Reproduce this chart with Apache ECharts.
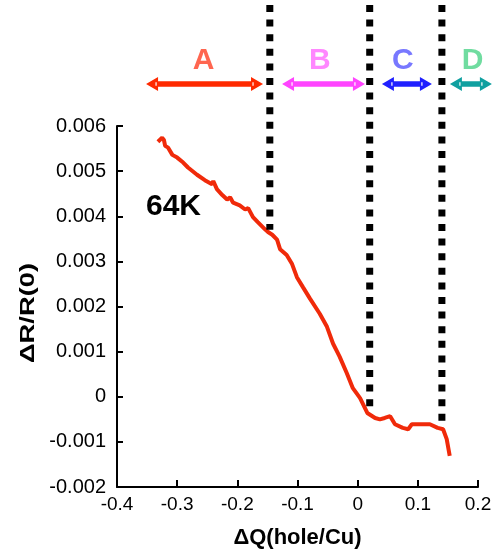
<!DOCTYPE html>
<html><head><meta charset="utf-8">
<script src="https://cdn.jsdelivr.net/npm/echarts@6/dist/echarts.min.js"></script>
<style>html,body{margin:0;padding:0;background:#fff}#c{width:503px;height:554px}</style>
</head><body><div id="c"></div>
<script>
// Curve: ΔQ (hole/Cu) vs ΔR/R(0) at 64K
const dq = [-0.332,-0.325,-0.322,-0.320,-0.315,-0.308,-0.300,-0.290,-0.282,-0.267,-0.254,-0.242,-0.240,-0.234,-0.225,-0.217,-0.212,-0.207,-0.196,-0.187,-0.182,-0.174,-0.166,-0.154,-0.149,-0.142,-0.134,-0.129,-0.118,-0.109,-0.101,-0.091,-0.079,-0.063,-0.051,-0.041,-0.030,-0.018,-0.008,0.004,0.016,0.029,0.037,0.045,0.054,0.062,0.075,0.084,0.090,0.099,0.108,0.120,0.133,0.142,0.148,0.153];
const dr = [0.00565,0.00574,0.00569,0.00556,0.00552,0.00536,0.00530,0.00519,0.00508,0.00492,0.00480,0.00471,0.00478,0.00460,0.00447,0.00437,0.00442,0.00430,0.00424,0.00415,0.00418,0.00398,0.00387,0.00371,0.00365,0.00359,0.00348,0.00327,0.00314,0.00294,0.00265,0.00243,0.00217,0.00184,0.00155,0.00118,0.00089,0.00052,0.00019,-0.00003,-0.00036,-0.00047,-0.00050,-0.00047,-0.00043,-0.00061,-0.00069,-0.00072,-0.00061,-0.00061,-0.00061,-0.00061,-0.00069,-0.00072,-0.00094,-0.00131];
// Region boundaries (dotted lines) and where they meet the curve
const boundaryX = [-0.146, 0.020, 0.140];
const boundaryEndY = [0.0037, -0.00036, -0.0007];
// Region labels and arrow extents
const regionNames = ['A','B','C','D'];
const regionLabelX = [-0.256,-0.063,0.075,0.191];
const regionFrom = [-0.3517,-0.1257,0.0403,0.1533];
const regionTo = [-0.1573,0.0121,0.1234,0.2231];
const regionLabelColors = ['#ff6650','#ff88ff','#7878ff','#70dca0'];
const regionArrowColors = ['#ff2a00','#ff44ff','#2020ff','#10a0a0'];
const xTicks = {min:-0.4,max:0.2,interval:0.1};
const yTicks = {min:-0.002,max:0.006,interval:0.001};

const chart = echarts.init(document.getElementById('c'));
const F = 'Liberation Sans, Arial, Helvetica, sans-serif';
chart.setOption({
  animation:false,
  grid:{left:117,right:25,top:126,bottom:65},
  xAxis:{type:'value',min:xTicks.min,max:xTicks.max,interval:xTicks.interval,
    name:'ΔQ(hole/Cu)',nameLocation:'middle',nameGap:40,
    nameTextStyle:{fontFamily:F,fontWeight:'bold',fontSize:22,color:'#000'},
    axisLine:{onZero:false,lineStyle:{color:'#000',width:2}},
    axisTick:{inside:true,length:7,lineStyle:{color:'#000',width:2}},
    axisLabel:{fontFamily:F,fontSize:19,color:'#000',margin:8},
    splitLine:{show:false}},
  yAxis:{type:'value',min:yTicks.min,max:yTicks.max,interval:yTicks.interval,
    axisLine:{onZero:false,lineStyle:{color:'#000',width:2}},
    axisTick:{inside:true,length:6,lineStyle:{color:'#000',width:2}},
    axisLabel:{fontFamily:F,fontSize:20,color:'#000',margin:11},
    splitLine:{show:false}},
  series:[{type:'line',data:dq.map((x,i)=>[x,dr[i]]),showSymbol:false,
    lineStyle:{color:'#f02a0a',width:4},clip:false}]
});

function px(x){return chart.convertToPixel({xAxisIndex:0},x);}
function py(y){return chart.convertToPixel({yAxisIndex:0},y);}
const els = [];
boundaryX.forEach((bx,i)=>{
  const x = px(bx);
  els.push({type:'line',shape:{x1:x,y1:5,x2:x,y2:py(boundaryEndY[i])},
    style:{stroke:'#000',lineWidth:7,lineDash:[7,7.6],lineCap:'butt'},z:10});
});
const ay = 84;
regionNames.forEach((n,i)=>{
  const x1 = px(regionFrom[i]), x2 = px(regionTo[i]);
  const c = regionArrowColors[i];
  const hl = 12, hh = 7, sh = 2.8;
  els.push({type:'polygon',shape:{points:[
    [x1,ay],[x1+hl,ay-hh],[x1+hl,ay-sh],[x2-hl,ay-sh],[x2-hl,ay-hh],[x2,ay],
    [x2-hl,ay+hh],[x2-hl,ay+sh],[x1+hl,ay+sh],[x1+hl,ay+hh]]},
    style:{fill:c},z:10});
  els.push({type:'line',shape:{x1:x1+hl-2,y1:ay-sh+1,x2:x1+hl-2,y2:ay+sh-1},style:{stroke:'#fff',lineWidth:1.2},z:11});
  els.push({type:'line',shape:{x1:x2-hl+2,y1:ay-sh+1,x2:x2-hl+2,y2:ay+sh-1},style:{stroke:'#fff',lineWidth:1.2},z:11});
  els.push({type:'text',x:px(regionLabelX[i]),y:61,style:{text:n,fill:regionLabelColors[i],
    font:'bold 30px '+F,align:'center',verticalAlign:'middle'},z:10});
});
els.push({type:'text',x:146,y:207,style:{text:'64K',fill:'#000',font:'bold 30px '+F,align:'left',verticalAlign:'middle'},z:10});
// y axis title (rotated)
els.push({type:'text',x:28,y:313,rotation:Math.PI/2,scaleX:1.3,
  style:{text:'ΔR/R(0)',fill:'#000',font:'bold 21px '+F,align:'center',verticalAlign:'middle'},z:10});
chart.setOption({graphic:{elements:els}});
</script></body></html>
